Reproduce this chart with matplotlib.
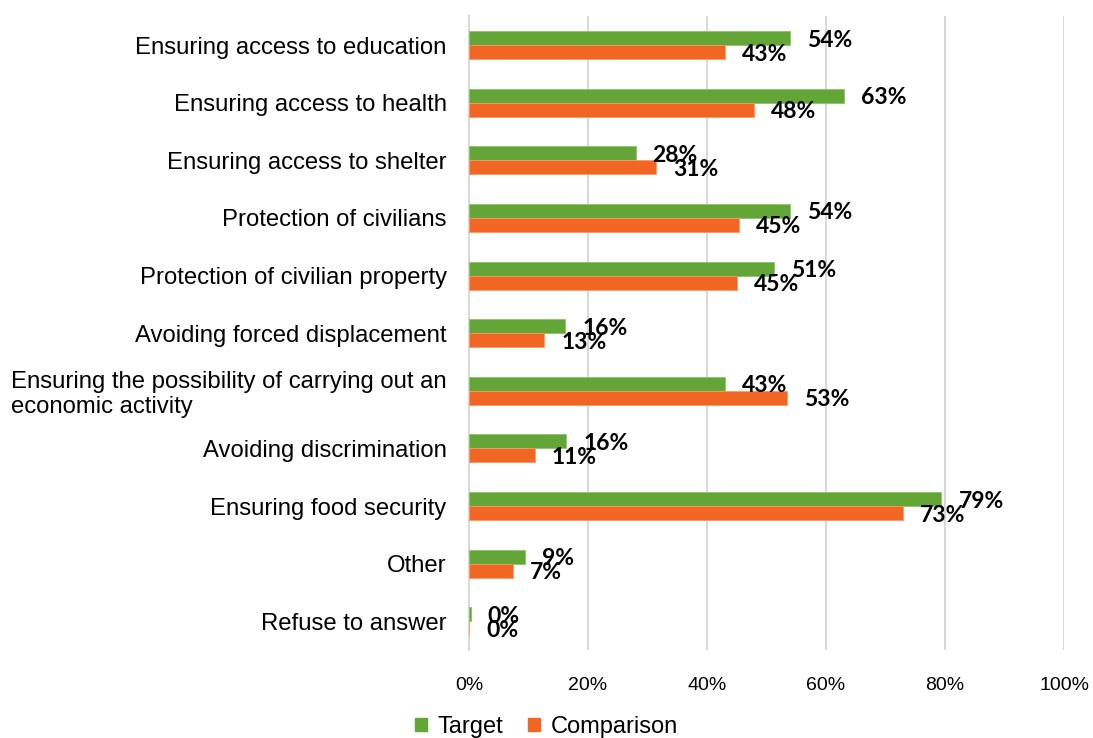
import matplotlib
matplotlib.use("Agg")
import numpy as np
import matplotlib.pyplot as plt
from matplotlib.patches import Patch

# Datos (porcentajes)
categories = [
    "Ensuring access to education",
    "Ensuring access to health",
    "Ensuring access to shelter",
    "Protection of civilians",
    "Protection of civilian property",
    "Avoiding forced displacement",
    "Ensuring the possibility of carrying out an\neconomic activity",
    "Avoiding discrimination",
    "Ensuring food security",
    "Other",
    "Refuse to answer",
]
target = [53.9, 63.0, 28.0, 53.9, 51.3, 16.2, 43.0, 16.4, 79.4, 9.4, 0.3]
comparison = [43.0, 47.9, 31.4, 45.4, 45.1, 12.7, 53.4, 11.1, 72.9, 7.4, 0.0]
xticks = [0, 20, 40, 60, 80, 100]

green = "#63A537"
orange = "#F26624"
grid_col = "#D9D9D9"

fig = plt.figure(figsize=(10.93, 7.38), dpi=100)
ax = fig.add_axes([0.429, 0.119, 0.5445, 0.859])

y = np.arange(len(categories))
h = 0.243
ax.barh(y - h / 2, target, height=h, color=green, edgecolor="#8CC46A", linewidth=0.6, zorder=3)
ax.barh(y + h / 2, comparison, height=h, color=orange, edgecolor="#F79A6B", linewidth=0.6, zorder=3)

# etiquetas de valor
for i in range(len(categories)):
    ax.annotate(f"{target[i]:.0f}%", (target[i], y[i] - h / 2), xytext=(17, -2),
                textcoords="offset pixels", va="center", ha="left",
                fontsize=16.5, fontweight="bold", family="Lato", zorder=5)
    ax.annotate(f"{comparison[i]:.0f}%", (comparison[i], y[i] + h / 2), xytext=(17, -2),
                textcoords="offset pixels", va="center", ha="left",
                fontsize=16.5, fontweight="bold", family="Lato", zorder=5)

ax.set_xlim(0, 100)
ax.set_ylim(len(categories) - 0.5, -0.5)
ax.set_xticks(xticks)
ax.set_xticklabels([f"{v}%" for v in xticks], family="Liberation Sans", fontsize=14)
ax.set_yticks(y)
ax.set_yticklabels(categories, family="Liberation Sans", fontsize=17.2, linespacing=1.15)
for lbl in ax.get_yticklabels():
    lbl.set_multialignment("left")
ax.tick_params(axis="x", length=0, pad=19)
ax.tick_params(axis="y", length=0, pad=16)

ax.grid(axis="x", color=grid_col, linewidth=1.5, zorder=0)
for s in ["top", "right", "bottom"]:
    ax.spines[s].set_visible(False)
ax.spines["left"].set_color(grid_col)
ax.spines["left"].set_linewidth(1.5)

handles = [Patch(color=green, label="Target"), Patch(color=orange, label="Comparison")]
fig.legend(handles=handles, loc="center", bbox_to_anchor=(0.5, 0.015), ncol=2, frameon=False,
           prop={"family": "Liberation Sans", "size": 17}, handlelength=0.5, handleheight=0.5,
           handletextpad=0.45, columnspacing=1.05, borderaxespad=0)

fig.savefig("out.png", dpi=100)
